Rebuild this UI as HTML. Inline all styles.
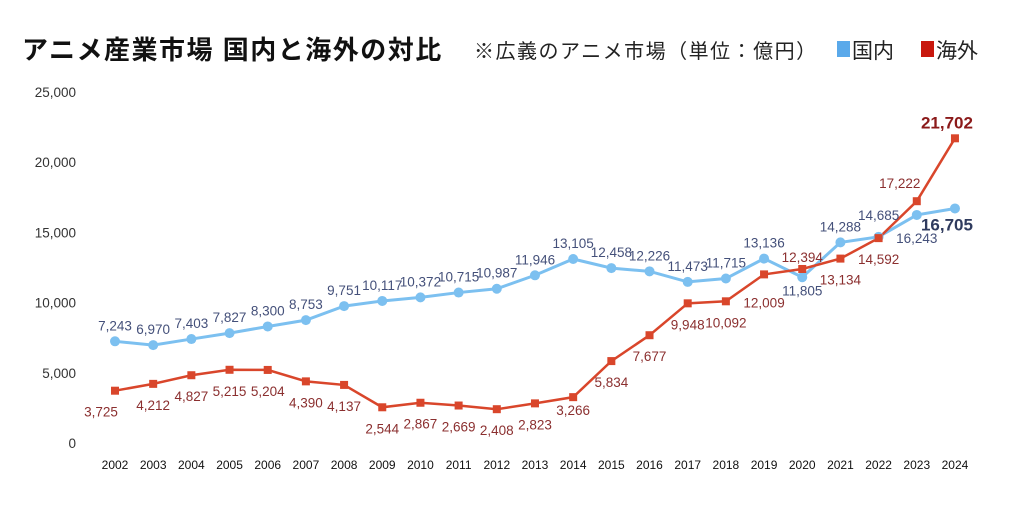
<!DOCTYPE html>
<html><head><meta charset="utf-8"><style>
body{margin:0;background:#fff;}
svg{display:block;font-family:"Liberation Sans","Noto Sans CJK JP",sans-serif;}
</style></head><body>
<svg id="c" width="1024" height="509" xmlns="http://www.w3.org/2000/svg">
<text x="22" y="59" font-size="26" font-weight="bold" fill="#111" letter-spacing="1.5">アニメ産業市場 国内と海外の対比</text>
<text x="474" y="58" font-size="20" fill="#222" letter-spacing="1.5">※広義のアニメ市場（単位：億円）</text>
<rect x="837" y="41" width="13" height="16" fill="#5aa9ea"/>
<text x="852" y="58" font-size="21" fill="#222">国内</text>
<rect x="921" y="41" width="13" height="16" fill="#c8180e"/>
<text x="936" y="58" font-size="21" fill="#222">海外</text>
</svg>
<script>
const s=document.getElementById('c'),NS='http://www.w3.org/2000/svg';
function el(t,a,txt){const e=document.createElementNS(NS,t);for(const k in a)e.setAttribute(k,a[k]);if(txt!=null)e.textContent=txt;s.appendChild(e);return e;}
const Y=v=>443-v*0.01404, X=i=>115+i*38.18;
for(let v=0;v<=25000;v+=5000)el('text',{x:76,y:Y(v)+5,'font-size':13.5,'text-anchor':'end',fill:'#333'},v==0?'0':v.toLocaleString('en-US'));
for(let i=0;i<23;i++)el('text',{x:X(i),y:469,'font-size':12,'text-anchor':'middle',fill:'#111'},2002+i);
const B=[7243,6970,7403,7827,8300,8753,9751,10117,10372,10715,10987,11946,13105,12458,12226,11473,11715,13136,11805,14288,14685,16243,16705];
const R=[3725,4212,4827,5215,5204,4390,4137,2544,2867,2669,2408,2823,3266,5834,7677,9948,10092,12009,12394,13134,14592,17222,21702];
el('polyline',{points:B.map((v,i)=>X(i)+','+Y(v)).join(' '),fill:'none',stroke:'#7cc0f0','stroke-width':3});
el('polyline',{points:R.map((v,i)=>X(i)+','+Y(v)).join(' '),fill:'none',stroke:'#d9462b','stroke-width':2.5});
B.forEach((v,i)=>el('circle',{cx:X(i),cy:Y(v),r:5,fill:'#7cc0f0'}));
R.forEach((v,i)=>el('rect',{x:X(i)-4,y:Y(v)-4,width:8,height:8,fill:'#d9462b'}));
const f=v=>v.toLocaleString('en-US');
B.forEach((v,i)=>{let dx=0,dy=-11,sz=13.5,w='normal',c='#44507a',a='middle';
 if(i==18)dy=18; if(i==20)dy=-17; if(i==21)dy=28; if(i==22){dx=-8;dy=22;sz=17;w='bold';c='#2f3b5e';}
 el('text',{x:X(i)+dx,y:Y(v)+dy,'font-size':sz,'font-weight':w,'text-anchor':a,fill:c},f(v));});
R.forEach((v,i)=>{let dx=0,dy=26,sz=13.5,w='normal',c='#8b2f2f';
 if(i==0)dx=-14; if(i==12)dy=18; if(i==17)dy=33; if(i==18)dy=-7; if(i==21){dx=-17;dy=-13;}
 if(i==22){dx=-8;dy=-10;sz=17;w='bold';c='#8b1a1a';}
 el('text',{x:X(i)+dx,y:Y(v)+dy,'font-size':sz,'font-weight':w,'text-anchor':'middle',fill:c},f(v));});
</script>
</body></html>
